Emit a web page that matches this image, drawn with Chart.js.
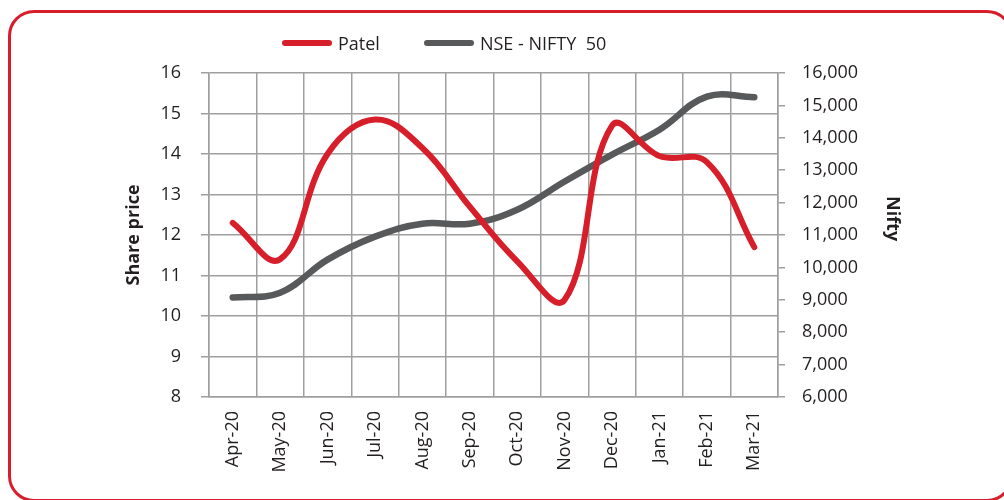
<!DOCTYPE html>
<html>
<head>
<meta charset="utf-8">
<script src="https://cdn.jsdelivr.net/npm/chart.js@4.4.1/dist/chart.umd.min.js"></script>
<style>
  html, body { margin: 0; padding: 0; background: #fff; }
  #wrap { position: relative; width: 1004px; height: 500px; overflow: hidden; font-family: 'Open Sans', sans-serif; color: #231f20; }
  #frame { position: absolute; left: 8px; top: 10px; width: 1005px; height: 492px; box-sizing: border-box; border: 3px solid #d71f2b; border-radius: 26px; }
  #chart { position: absolute; left: 0; top: 0; }
  #legend { position: absolute; left: 282px; top: 31px; display: flex; align-items: center; font-size: 18px; }
  .item { display: flex; align-items: center; margin-right: 44px; }
  .swatch { width: 50px; height: 6px; border-radius: 3px; margin-right: 6px; }
  #nifty-title { position: absolute; left: 882px; top: 196px; writing-mode: vertical-rl; font-weight: bold; font-size: 18px; }
</style>
</head>
<body>
<div id="wrap">
  <div id="frame"></div>
  <canvas id="chart" width="1004" height="500"></canvas>
  <div id="legend"></div>
  <div id="nifty-title">Nifty</div>
</div>
<script>
// Monthly data
const months = ['Apr-20', 'May-20', 'Jun-20', 'Jul-20', 'Aug-20', 'Sep-20', 'Oct-20', 'Nov-20', 'Dec-20', 'Jan-21', 'Feb-21', 'Mar-21'];
const patelPrice = [12.3, 11.4, 14.0, 14.85, 14.15, 12.7, 11.35, 10.4, 14.7, 13.95, 13.8, 11.7];
const niftyClose = [9070, 9220, 10240, 10950, 11350, 11350, 11780, 12650, 13480, 14250, 15270, 15250];

const RED = '#d71f2b';
const GREY = '#58595b';
const GRID = '#9f9f9f';
const TEXT = '#231f20';

const seriesInfo = [
  { label: 'Patel', color: RED },
  { label: 'NSE - NIFTY  50', color: GREY },
];

// html legend
const legendEl = document.getElementById('legend');
seriesInfo.forEach(s => {
  legendEl.innerHTML += `
    <div class="item">
      <span class="swatch" style="background:${s.color}"></span>
      <span style="white-space:pre">${s.label}</span>
    </div>`;
});

const tickFont = { family: 'Open Sans', size: 18 };

new Chart(document.getElementById('chart'), {
  type: 'line',
  data: {
    labels: months,
    datasets: [
      {
        label: 'Patel',
        data: patelPrice,
        yAxisID: 'y',
        borderColor: RED,
        borderWidth: 6,
        borderCapStyle: 'round',
        tension: 0.4,
        pointRadius: 0,
      },
      {
        label: 'NSE - NIFTY 50',
        data: niftyClose,
        yAxisID: 'y2',
        borderColor: GREY,
        borderWidth: 6.5,
        borderCapStyle: 'round',
        tension: 0.4,
        pointRadius: 0,
      },
    ],
  },
  options: {
    responsive: false,
    animation: false,
    layout: { padding: { left: 119, right: 99, top: 73, bottom: 0 } },
    plugins: {
      legend: { display: false },
      tooltip: { enabled: false },
    },
    scales: {
      x: {
        offset: true,
        grid: { offset: true, color: GRID, lineWidth: 1.5, drawTicks: false },
        border: { color: GRID, width: 1.5 },
        ticks: { color: TEXT, font: tickFont, minRotation: 90, maxRotation: 90, padding: 14 },
        afterFit: (s) => { s.height = 103; },
      },
      y: {
        position: 'left',
        min: 8,
        max: 16,
        ticks: { stepSize: 1, color: TEXT, font: tickFont, padding: 20 },
        grid: { color: GRID, lineWidth: 1.5, tickLength: 8 },
        border: { color: GRID, width: 1.5 },
        title: { display: true, text: 'Share price', color: TEXT, font: { family: 'Open Sans', size: 18, weight: 'bold' } },
        afterFit: (s) => { s.width = 90; },
      },
      y2: {
        position: 'right',
        min: 6000,
        max: 16000,
        ticks: {
          stepSize: 1000,
          color: TEXT,
          font: tickFont,
          padding: 17,
          callback: (v) => v.toLocaleString('en-US'),
        },
        grid: { drawOnChartArea: false, color: GRID, lineWidth: 1.5, tickLength: 7 },
        border: { color: GRID, width: 1.5 },
        afterFit: (s) => { s.width = 127; },
      },
    },
  },
});
</script>
</body>
</html>
